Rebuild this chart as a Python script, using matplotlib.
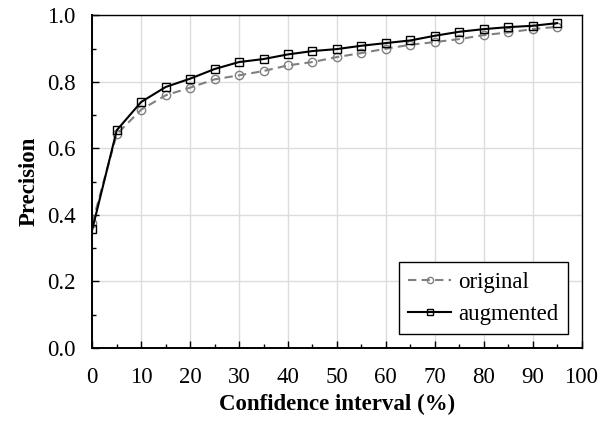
import matplotlib.pyplot as plt
from matplotlib.ticker import MultipleLocator

plt.rcParams['font.family'] = ['Liberation Serif', 'DejaVu Serif']

conf = [0, 5, 10, 15, 20, 25, 30, 35, 40, 45, 50, 55, 60, 65, 70, 75, 80, 85, 90, 95]

original = [0.376, 0.643, 0.717, 0.76, 0.783, 0.808, 0.82, 0.833, 0.85, 0.86,
            0.875, 0.887, 0.90, 0.912, 0.92, 0.929, 0.941, 0.949, 0.959, 0.966]

augmented = [0.357, 0.655, 0.74, 0.785, 0.81, 0.839, 0.86, 0.869, 0.883, 0.893,
             0.899, 0.909, 0.917, 0.925, 0.939, 0.951, 0.959, 0.965, 0.969, 0.977]

fs = 16.5

fig = plt.figure(figsize=(6.1, 4.21), dpi=100)
ax = fig.add_axes([0.1513, 0.1734, 0.802, 0.7898])

ax.plot(conf, original, color='#808080', linestyle='--', linewidth=1.5,
        marker='o', markersize=6, markerfacecolor='none', markeredgewidth=1,
        label='original', dashes=(4, 2.5))
ax.plot(conf, augmented, color='black', linestyle='-', linewidth=1.5,
        marker='s', markersize=6, markerfacecolor='none', markeredgewidth=1,
        label='augmented')

ax.set_xlim(0, 100)
ax.set_ylim(0, 1.0)
ax.xaxis.set_major_locator(MultipleLocator(10))
ax.xaxis.set_minor_locator(MultipleLocator(5))
ax.yaxis.set_major_locator(MultipleLocator(0.2))
ax.yaxis.set_minor_locator(MultipleLocator(0.1))
ax.yaxis.set_major_formatter(plt.FormatStrFormatter('%.1f'))
ax.tick_params(which='both', direction='in', labelsize=fs, width=1)
ax.tick_params(axis='x', which='major', length=5, pad=14)
ax.tick_params(axis='y', which='major', length=5, pad=12)
ax.tick_params(which='minor', length=3)
ax.grid(True, which='major', color='#dcdcdc', linewidth=1)
ax.set_axisbelow(True)
ax.spines['left'].set_linewidth(1.4)
ax.spines['bottom'].set_linewidth(1.4)
ax.spines['top'].set_linewidth(1)
ax.spines['right'].set_linewidth(1)

ax.set_xlabel('Confidence interval (%)', fontsize=fs, fontweight='bold', labelpad=4)
ax.set_ylabel('Precision', fontsize=fs, fontweight='bold', labelpad=5)

leg = ax.legend(loc='lower right', fontsize=fs, fancybox=False, framealpha=1,
                edgecolor='black', handlelength=1.9, markerscale=0.75,
                borderaxespad=0.6, borderpad=0.4, labelspacing=0.5,
                handletextpad=0.3)
leg.get_frame().set_linewidth(1)

fig.savefig('out.png', dpi=100)
